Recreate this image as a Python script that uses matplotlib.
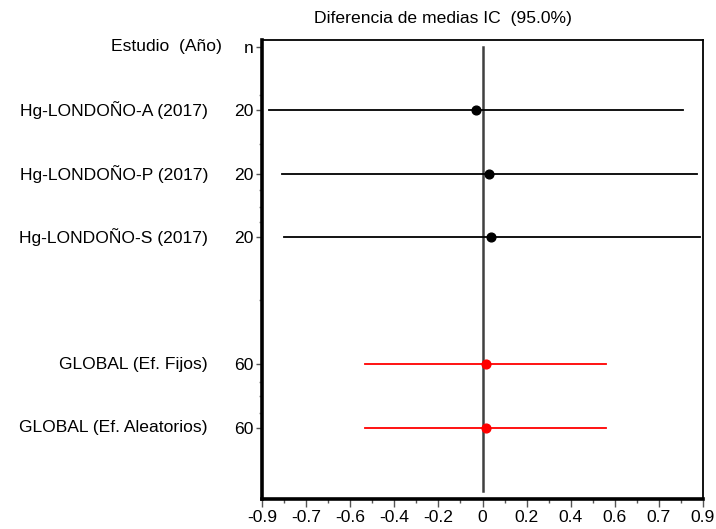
import matplotlib
matplotlib.use("Agg")
import matplotlib.pyplot as plt
import matplotlib.transforms as mtransforms
from matplotlib.ticker import FixedLocator

plt.rcParams['font.family'] = ['Liberation Sans', 'DejaVu Sans']

studies = ["Hg-LONDOÑO-A (2017)", "Hg-LONDOÑO-P (2017)", "Hg-LONDOÑO-S (2017)",
           "GLOBAL (Ef. Fijos)", "GLOBAL (Ef. Aleatorios)"]
n_values = ["20", "20", "20", "60", "60"]
rows = [1, 2, 3, 5, 6]
means = [-0.026, 0.025, 0.034, 0.015, 0.015]
ci_low = [-0.872, -0.819, -0.812, -0.478, -0.478]
ci_high = [0.819, 0.876, 0.888, 0.504, 0.504]
colors = ["black", "black", "black", "#ff0000", "#ff0000"]

x_ticks = [-0.9, -0.72, -0.54, -0.36, -0.18, 0, 0.18, 0.36, 0.54, 0.72, 0.9]
x_tick_labels = ["-0.9", "-0.7", "-0.6", "-0.4", "-0.2", "0", "0.2", "0.4", "0.6", "0.7", "0.9"]
x_minor = [-0.81, -0.63, -0.45, -0.27, -0.09, 0.09, 0.27, 0.45, 0.63, 0.81]
y_minor = [0.76, 1.53, 2.25, 2.52, 2.76, 3.99, 5.27, 5.5, 5.76]

FS = 12.6
W, H = 716, 529
fig = plt.figure(figsize=(W / 100, H / 100), dpi=100)
ax = fig.add_axes([262 / W, 1 - 499 / H, (703 - 262) / W, (499 - 40) / H])

ax.set_xlim(-0.9, 0.9)
ax.set_ylim(7.12, -0.11)

# zero line
ax.plot([0, 0], [0, 7.0], color="#404040", lw=1.8, zorder=2)

for r, m, lo, hi, c in zip(rows, means, ci_low, ci_high, colors):
    ax.plot([lo, hi], [r, r], color=c, lw=1.3, zorder=3, clip_on=False)
    ax.plot([m], [r], marker="o", color=c, markersize=6.3, zorder=4, clip_on=False)

# spines
for side in ["left", "bottom"]:
    ax.spines[side].set_linewidth(2.6)
for side in ["top", "right"]:
    ax.spines[side].set_linewidth(1.3)

ax.set_xticks(x_ticks)
ax.set_xticklabels(x_tick_labels, fontsize=FS)
ax.xaxis.set_minor_locator(FixedLocator(x_minor))
ax.tick_params(axis="x", which="major", length=6, width=1.0, color="#555555", pad=2)
ax.tick_params(axis="x", which="minor", length=3, width=1.0, color="#555555")

ax.set_yticks([0] + rows)
ax.set_yticklabels(["n"] + n_values, fontsize=FS)
ax.yaxis.set_minor_locator(FixedLocator(y_minor))
ax.tick_params(axis="y", which="major", length=4, width=1.0, color="#555555", pad=2)
ax.tick_params(axis="y", which="minor", length=2.5, width=1.0, color="#888888")

trans = mtransforms.blended_transform_factory(fig.transFigure, ax.transData)
ax.text(222 / W, 0, "Estudio  (Año)", transform=trans, ha="right", va="center", fontsize=FS)
for r, s in zip(rows, studies):
    ax.text(208 / W, r, s, transform=trans, ha="right", va="center", fontsize=FS)

fig.text(443 / W, 1 - 18 / H, "Diferencia de medias IC  (95.0%)", ha="center", va="center", fontsize=FS)

fig.savefig("out.png", dpi=100)
